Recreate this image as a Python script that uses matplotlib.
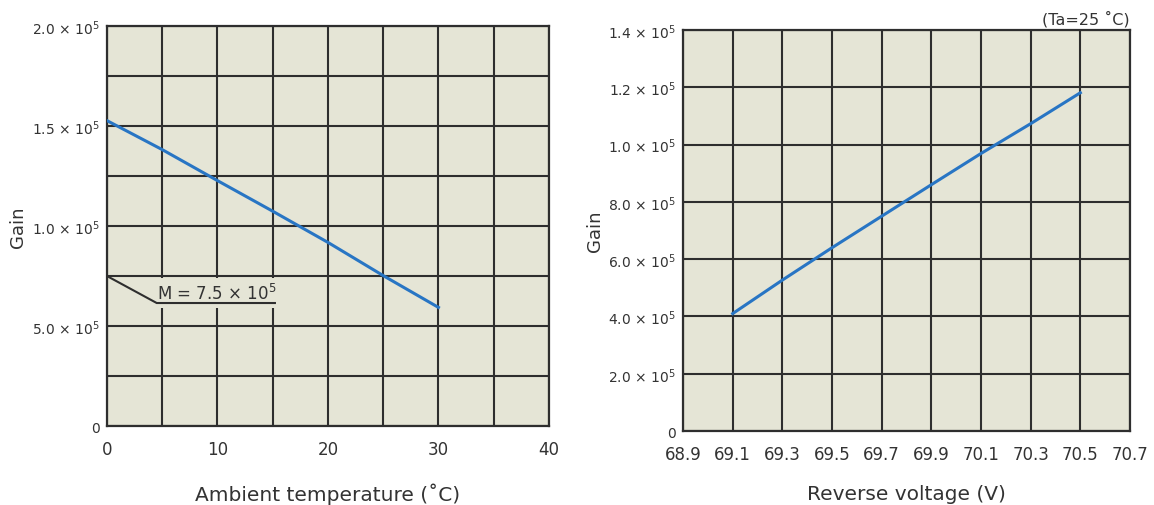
import matplotlib
matplotlib.use('Agg')
import matplotlib.pyplot as plt
from matplotlib.ticker import MultipleLocator
from matplotlib.patches import Rectangle

plt.rcParams['font.family'] = ['DejaVu Sans']
plt.rcParams['mathtext.fontset'] = 'dejavusans'

# gain in units of 10^5
temp = [0, 5, 10, 15, 20, 25, 30]
gain_temp = [1.527, 1.382, 1.227, 1.074, 0.918, 0.752, 0.593]

volt = [69.1, 69.3, 69.5, 69.7, 69.9, 70.1, 70.3, 70.5]
gain_volt = [0.41, 0.527, 0.64, 0.75, 0.86, 0.969, 1.073, 1.181]

left_yticks = [0, 0.5, 1.0, 1.5, 2.0]
left_ylabels = ['0', '5.0 × 10$^5$', '1.0 × 10$^5$', '1.5 × 10$^5$', '2.0 × 10$^5$']
left_xticks = [0, 10, 20, 30, 40]

right_yticks = [0, 0.2, 0.4, 0.6, 0.8, 1.0, 1.2, 1.4]
right_ylabels = ['0', '2.0 × 10$^5$', '4.0 × 10$^5$', '6.0 × 10$^5$', '8.0 × 10$^5$',
                 '1.0 × 10$^5$', '1.2 × 10$^5$', '1.4 × 10$^5$']
right_xticks = [68.9, 69.1, 69.3, 69.5, 69.7, 69.9, 70.1, 70.3, 70.5, 70.7]

bg = '#e5e5d6'
grid_c = '#2e2e2e'
line_c = '#2875c4'
txt_c = '#333333'

fig = plt.figure(figsize=(11.54, 5.06), dpi=100)
ax1 = fig.add_axes([0.0927, 0.1561, 0.383, 0.7905])
ax2 = fig.add_axes([0.5919, 0.1462, 0.3873, 0.7925])

for ax in (ax1, ax2):
    ax.set_facecolor(bg)
    ax.set_axisbelow(True)
    for s in ax.spines.values():
        s.set_color(grid_c)
        s.set_linewidth(1.6)
    ax.grid(True, which='both', color=grid_c, linewidth=1.5)
    ax.tick_params(which='both', length=0, colors=txt_c)
    ax.tick_params(axis='x', pad=10, labelsize=12)
    ax.tick_params(axis='y', pad=5, labelsize=10)

# left: gain vs ambient temperature
ax1.plot(temp, gain_temp, color=line_c, linewidth=2.2, zorder=3)
ax1.set_xlim(0, 40)
ax1.set_ylim(0, 2.0)
ax1.set_xticks(left_xticks)
ax1.xaxis.set_minor_locator(MultipleLocator(5))
ax1.set_yticks(left_yticks, left_ylabels)
ax1.yaxis.set_minor_locator(MultipleLocator(0.25))
ax1.set_xlabel('Ambient temperature (˚C)', fontsize=14.5, color=txt_c)
ax1.set_ylabel('Gain', fontsize=13, color=txt_c)
ax1.xaxis.set_label_coords(0.5, -0.14)
ax1.yaxis.set_label_coords(-0.18, 0.5)

# annotation M = 7.5 x 10^5
ax1.add_patch(Rectangle((4.45, 0.59), 11.0, 0.152, facecolor=bg, edgecolor='none', zorder=1))
ax1.plot([0, 4.5, 15.2], [0.75, 0.615, 0.615], color=grid_c, linewidth=1.5, zorder=3)
ax1.text(4.55, 0.635, 'M = 7.5 × 10$^5$', fontsize=12, color=txt_c,
         ha='left', va='baseline', zorder=4)

# right: gain vs reverse voltage
ax2.plot(volt, gain_volt, color=line_c, linewidth=2.2, zorder=3)
ax2.set_xlim(68.9, 70.7)
ax2.set_ylim(0, 1.4)
ax2.set_xticks(right_xticks, [f'{v:.1f}' for v in right_xticks])
ax2.set_yticks(right_yticks, right_ylabels)
ax2.set_xlabel('Reverse voltage (V)', fontsize=14.5, color=txt_c)
ax2.set_ylabel('Gain', fontsize=13, color=txt_c)
ax2.xaxis.set_label_coords(0.5, -0.132)
ax2.yaxis.set_label_coords(-0.177, 0.5)
ax2.text(1.0, 1.008, '(Ta=25 ˚C)', transform=ax2.transAxes, fontsize=11.5,
         color=txt_c, ha='right', va='bottom')

fig.savefig('out.png', dpi=100)
